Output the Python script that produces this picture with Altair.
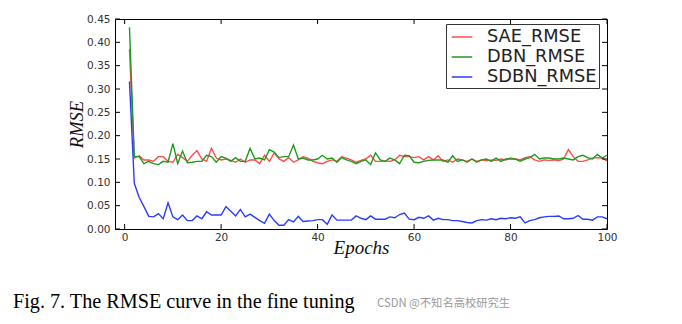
import altair as alt
import pandas as pd

epochs = list(range(1, 101))

sae_rmse = [
    0.385, 0.152, 0.157, 0.148, 0.148, 0.145, 0.155, 0.155, 0.145, 0.143,
    0.160, 0.153, 0.145, 0.158, 0.168, 0.150, 0.145, 0.173, 0.152, 0.148,
    0.150, 0.147, 0.143, 0.150, 0.143, 0.148, 0.148, 0.140, 0.158, 0.145,
    0.163, 0.150, 0.145, 0.153, 0.143, 0.148, 0.155, 0.152, 0.145, 0.142,
    0.140, 0.145, 0.148, 0.145, 0.155, 0.152, 0.148, 0.143, 0.147, 0.150,
    0.158, 0.145, 0.145, 0.146, 0.145, 0.148, 0.158, 0.155, 0.155, 0.153,
    0.155, 0.148, 0.155, 0.148, 0.157, 0.145, 0.148, 0.143, 0.150, 0.148,
    0.145, 0.150, 0.145, 0.148, 0.146, 0.148, 0.147, 0.150, 0.148, 0.152,
    0.150, 0.148, 0.153, 0.155, 0.148, 0.145, 0.148, 0.147, 0.148, 0.146,
    0.150, 0.170, 0.155, 0.145, 0.145, 0.148, 0.152, 0.153, 0.152, 0.146,
]

dbn_rmse = [
    0.432, 0.155, 0.155, 0.140, 0.145, 0.140, 0.138, 0.145, 0.143, 0.183,
    0.140, 0.167, 0.142, 0.143, 0.145, 0.145, 0.158, 0.155, 0.143, 0.155,
    0.152, 0.145, 0.153, 0.145, 0.145, 0.173, 0.150, 0.152, 0.148, 0.170,
    0.165, 0.153, 0.155, 0.155, 0.180, 0.150, 0.152, 0.148, 0.148, 0.150,
    0.158, 0.150, 0.152, 0.143, 0.153, 0.148, 0.145, 0.140, 0.145, 0.148,
    0.138, 0.163, 0.148, 0.145, 0.152, 0.148, 0.140, 0.158, 0.157, 0.143,
    0.142, 0.145, 0.147, 0.148, 0.148, 0.148, 0.143, 0.157, 0.145, 0.148,
    0.143, 0.150, 0.143, 0.148, 0.150, 0.145, 0.152, 0.145, 0.150, 0.150,
    0.150, 0.145, 0.150, 0.153, 0.160, 0.150, 0.152, 0.152, 0.150, 0.150,
    0.152, 0.150, 0.148, 0.155, 0.158, 0.153, 0.150, 0.160, 0.152, 0.158,
]

sdbn_rmse = [
    0.316, 0.098, 0.068, 0.048, 0.027, 0.026, 0.033, 0.022, 0.056, 0.026,
    0.020, 0.030, 0.018, 0.018, 0.028, 0.022, 0.037, 0.030, 0.030, 0.030,
    0.048, 0.038, 0.028, 0.042, 0.026, 0.032, 0.025, 0.018, 0.012, 0.032,
    0.018, 0.008, 0.008, 0.020, 0.015, 0.027, 0.016, 0.017, 0.018, 0.020,
    0.020, 0.010, 0.030, 0.019, 0.019, 0.019, 0.019, 0.028, 0.023, 0.020,
    0.028, 0.021, 0.021, 0.021, 0.026, 0.024, 0.031, 0.034, 0.021, 0.020,
    0.025, 0.023, 0.028, 0.019, 0.023, 0.020, 0.020, 0.018, 0.018, 0.016,
    0.014, 0.013, 0.018, 0.020, 0.019, 0.022, 0.020, 0.023, 0.022, 0.024,
    0.023, 0.026, 0.013, 0.018, 0.020, 0.024, 0.026, 0.027, 0.027, 0.028,
    0.022, 0.022, 0.023, 0.029, 0.021, 0.021, 0.019, 0.026, 0.026, 0.022,
]

series_names = ["SAE_RMSE", "DBN_RMSE", "SDBN_RMSE"]
series_colors = ["#ff4a4a", "#1f9a1f", "#2a3cff"]

x_ticks = [0, 20, 40, 60, 80, 100]
y_ticks = [0.0, 0.05, 0.10, 0.15, 0.20, 0.25, 0.30, 0.35, 0.40, 0.45]

caption = "Fig. 7. The RMSE curve in the fine tuning"
watermark = "CSDN @不知名高校研究生"

rows = []
for name, vals in zip(series_names, [sae_rmse, dbn_rmse, sdbn_rmse]):
    for e, v in zip(epochs, vals):
        rows.append({"epoch": e, "rmse": v, "series": name})
df = pd.DataFrame(rows)

W, H = 492, 210
TICK = 5

xscale = alt.Scale(domain=[-2, 100], nice=False, zero=False)
yscale = alt.Scale(domain=[0, 0.45], nice=False)

xaxis = alt.Axis(values=x_ticks, format="d", ticks=False, domain=False, grid=False,
                 labelFont="DejaVu Sans", labelFontSize=10.5, labelColor="#333",
                 labelPadding=3, labelOverlap=False, labelBound=False, labelFlush=False,
                 title="Epochs", titleFont="Liberation Serif",
                 titleFontStyle="italic", titleFontWeight="normal", titleFontSize=19,
                 titleColor="#111", titleBaseline="alphabetic", titleY=24,
                 titleX=W / 2)
yaxis = alt.Axis(values=y_ticks, format=".2f", ticks=False, domain=False, grid=False,
                 labelFont="DejaVu Sans", labelFontSize=10.5, labelColor="#333",
                 labelPadding=5, labelOverlap=False, labelBound=False, labelFlush=False,
                 title="RMSE", titleFont="Liberation Serif",
                 titleFontStyle="italic", titleFontWeight="normal", titleFontSize=18.5,
                 titleColor="#111", titleBaseline="alphabetic", titleX=-33,
                 titleY=H / 2)

lines = alt.Chart(df).mark_line(strokeWidth=1.4).encode(
    x=alt.X("epoch:Q", scale=xscale, axis=xaxis),
    y=alt.Y("rmse:Q", scale=yscale, axis=yaxis),
    color=alt.Color("series:N",
                    scale=alt.Scale(domain=series_names, range=series_colors),
                    sort=series_names,
                    legend=alt.Legend(title=None, orient="none", legendX=331, legendY=5,
                                      symbolType="stroke", symbolSize=420,
                                      symbolStrokeWidth=1.5, symbolOffset=3,
                                      labelFont="DejaVu Sans",
                                      labelFontSize=17.8, labelColor="#222", labelOffset=14,
                                      padding=2, rowPadding=0, strokeColor="#333",
                                      fillColor="white", cornerRadius=0)),
)

xt = pd.DataFrame({"v": x_ticks})
yt = pd.DataFrame({"v": y_ticks})

xb = alt.Chart(xt).mark_rule(color="black", strokeWidth=1).encode(
    x=alt.X("v:Q", scale=xscale, axis=xaxis), y=alt.value(H), y2=alt.value(H - TICK))
xtop = alt.Chart(xt).mark_rule(color="black", strokeWidth=1).encode(
    x=alt.X("v:Q", scale=xscale, axis=xaxis), y=alt.value(0), y2=alt.value(TICK))
yl = alt.Chart(yt).mark_rule(color="black", strokeWidth=1).encode(
    y=alt.Y("v:Q", scale=yscale, axis=yaxis), x=alt.value(0), x2=alt.value(TICK))
yr = alt.Chart(yt).mark_rule(color="black", strokeWidth=1).encode(
    y=alt.Y("v:Q", scale=yscale, axis=yaxis), x=alt.value(W - TICK), x2=alt.value(W))

cap = alt.Chart(alt.Data(values=[{}])).mark_text(
    font="Liberation Serif", fontSize=20.2, color="#000", align="left", baseline="alphabetic"
).encode(x=alt.value(-102), y=alt.value(289), text=alt.value(caption))

wm = alt.Chart(alt.Data(values=[{}])).mark_text(
    font="Noto Sans CJK SC", fontSize=11.3, color="#9a9a9a", align="left", baseline="alphabetic"
).encode(x=alt.value(262), y=alt.value(288), text=alt.value(watermark))

chart = alt.layer(lines, xb, xtop, yl, yr, cap, wm).properties(
    width=W, height=H,
    autosize=alt.AutoSizeParams(type="none"),
    padding={"left": 115, "top": 19, "right": 75, "bottom": 95},
    background="white",
).configure_view(stroke="black", strokeWidth=1)

chart.save("out.html", embed_options={"renderer": "svg", "actions": False})
